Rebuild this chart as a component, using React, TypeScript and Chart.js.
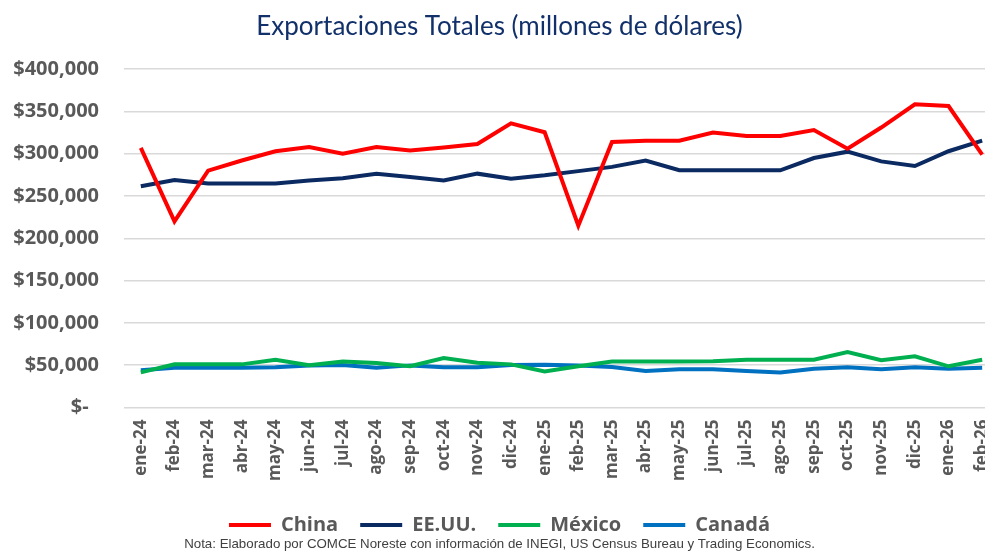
import React, { useEffect, useRef } from "react";
import { Chart, registerables } from "chart.js";

Chart.register(...registerables);

const categories = [
  "ene-24", "feb-24", "mar-24", "abr-24", "may-24", "jun-24", "jul-24", "ago-24", "sep-24", "oct-24", "nov-24", "dic-24",
  "ene-25", "feb-25", "mar-25", "abr-25", "may-25", "jun-25", "jul-25", "ago-25", "sep-25", "oct-25", "nov-25", "dic-25",
  "ene-26", "feb-26",
];

const china = [
  307000, 220000, 280000, 292000, 303000, 308000, 300000, 308000, 304000, 307500, 311500, 336000,
  325500, 215000, 314000, 315500, 315500, 325000, 321000, 321000, 328000, 306000, 331000, 358500,
  356500, 299000,
];

const eeuu = [
  261500, 269000, 265000, 265000, 265000, 268500, 271000, 276500, 272500, 268500, 276500, 270500,
  274500, 279500, 284500, 292000, 280500, 280500, 280500, 280500, 295000, 302500, 291000, 285500,
  303000, 315500,
];

const mexico = [
  41500, 51000, 51000, 51000, 56500, 50000, 54500, 52500, 48800, 58500, 53000, 51000,
  42700, 48700, 54500, 54500, 54500, 54800, 56500, 56500, 56500, 65500, 55800, 60500,
  48700, 56500,
];

const canada = [
  44000, 47000, 47000, 47000, 47500, 49800, 50300, 47000, 49800, 47500, 47500, 50300,
  50600, 49800, 47800, 43100, 45100, 45100, 43100, 41300, 45900, 47500, 45100, 47500,
  45900, 47000,
];

const seriesNames = ["China", "EE.UU.", "México", "Canadá"];
const seriesColors = ["#FF0000", "#0B2A62", "#00B050", "#0070C0"];

const titleText = "Exportaciones Totales (millones de dólares)";
const noteText = "Nota: Elaborado por COMCE Noreste con información de INEGI, US Census Bureau y Trading Economics.";

const yMin = 0;
const yMax = 400000;
const yStep = 50000;

export default function App() {
  const ref = useRef<HTMLCanvasElement | null>(null);

  useEffect(() => {
    document.body.style.margin = "0";
    document.body.style.overflow = "hidden";
    const canvas = ref.current;
    if (!canvas) return;
    const seriesData = [china, eeuu, mexico, canada];
    const grey = "#595959";
    const chart = new Chart(canvas, {
      type: "line",
      data: {
        labels: categories,
        datasets: seriesNames.map((name, i) => ({
          label: name,
          data: seriesData[i],
          borderColor: seriesColors[i],
          backgroundColor: seriesColors[i],
          borderWidth: 4,
          pointRadius: 0,
          tension: 0,
          fill: false,
        })),
      },
      options: {
        animation: false,
        responsive: false,
        maintainAspectRatio: false,
        layout: { padding: { left: 0, right: 1, top: 0, bottom: 0 } },
        plugins: {
          title: {
            display: true,
            text: titleText,
            color: "#12306A",
            font: { family: "Lato", size: 26, weight: "normal" },
            padding: { top: 11, bottom: 27 },
          },
          subtitle: {
            display: true,
            position: "bottom",
            text: noteText,
            color: "#404040",
            font: { family: "Liberation Sans", size: 13.3, weight: "normal" },
            padding: { top: -9, bottom: 0 },
          },
          legend: {
            display: true,
            position: "bottom",
            labels: {
              usePointStyle: true,
              pointStyle: "line",
              pointStyleWidth: 42,
              color: grey,
              font: { family: "Open Sans", size: 20, weight: "bold" },
              padding: 22,
            },
          },
          tooltip: { enabled: false },
        },
        scales: {
          x: {
            offset: true,
            grid: { display: false, drawTicks: false },
            border: { display: false },
            afterFit: (scale: any) => {
              scale.paddingLeft = 0;
              scale.paddingRight = 0;
            },
            ticks: {
              color: grey,
              font: { family: "Open Sans", size: 17, weight: "bold" },
              maxRotation: 90,
              minRotation: 90,
              autoSkip: false,
              padding: 12,
            },
          },
          y: {
            min: yMin,
            max: yMax,
            grid: { color: "#D9D9D9", lineWidth: 1.5, drawTicks: false },
            border: { display: false },
            afterFit: (scale: any) => {
              scale.width = 124;
            },
            ticks: {
              stepSize: yStep,
              color: grey,
              font: { family: "Open Sans", size: 20, weight: "bold" },
              padding: 25,
              callback: (v: any) =>
                Number(v) === 0 ? "$-  " : "$" + Number(v).toLocaleString("en-US"),
            },
          },
        },
      },
    });
    return () => chart.destroy();
  }, []);

  return (
    <div style={{ position: "absolute", left: 0, top: 0, width: 1000, height: 552 }}>
      <canvas ref={ref} width={1000} height={552} style={{ width: 1000, height: 552 }} />
    </div>
  );
}
